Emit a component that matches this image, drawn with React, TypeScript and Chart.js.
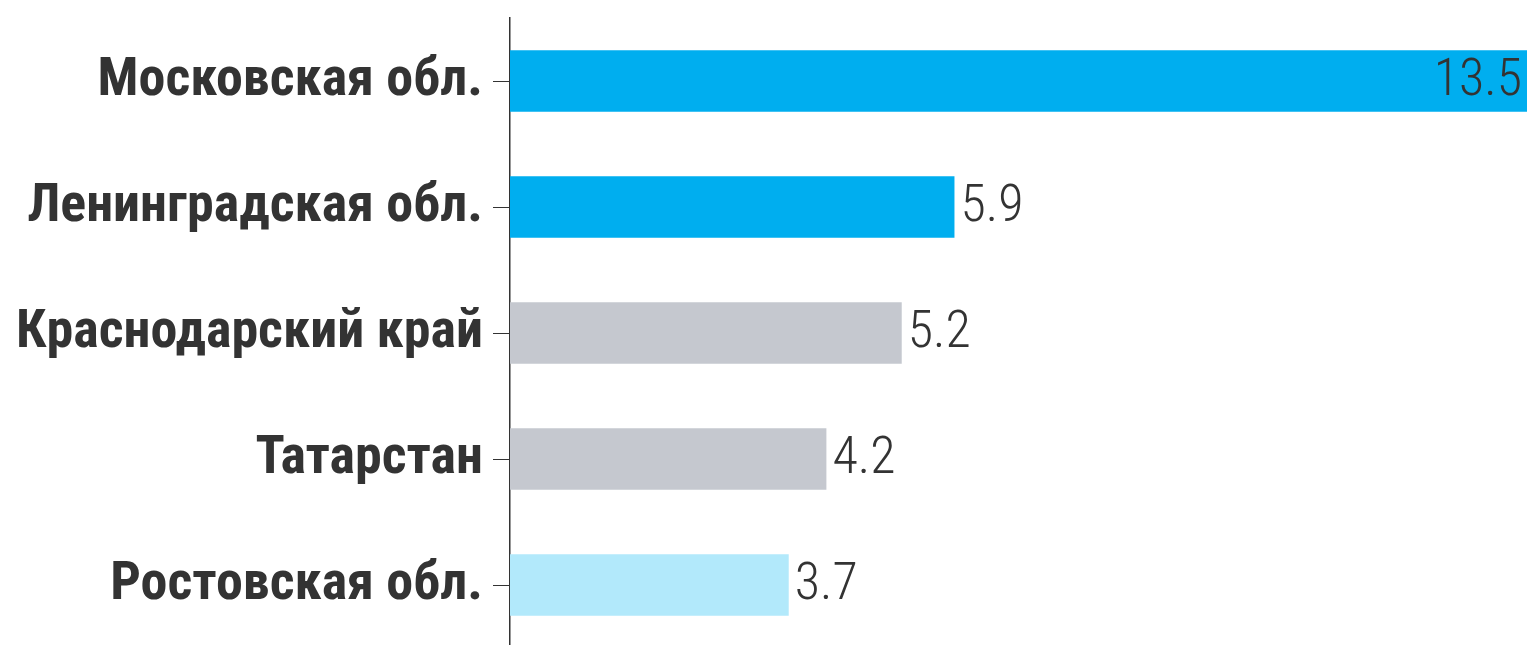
import React, { useEffect, useRef } from "react";
import { Chart, registerables } from "chart.js";

Chart.register(...registerables);

const categories = ["Московская обл.", "Ленинградская обл.", "Краснодарский край", "Татарстан", "Ростовская обл."];
const values = [13.5, 5.9, 5.2, 4.2, 3.7];
const barColors = ["#00AEEF", "#00AEEF", "#C5C8CF", "#C5C8CF", "#B2E9FB"];

const FONT = "'Roboto Condensed', 'Roboto', sans-serif";

const valueLabels = {
  id: "valueLabels",
  afterDatasetsDraw(chart: any) {
    const ctx = chart.ctx;
    const meta = chart.getDatasetMeta(0);
    const area = chart.chartArea;
    ctx.save();
    ctx.font = `300 52px ${FONT}`;
    ctx.fillStyle = "#333333";
    ctx.textBaseline = "middle";
    meta.data.forEach((bar: any, i: number) => {
      const txt = values[i].toFixed(1);
      const w = ctx.measureText(txt).width;
      const x = bar.x;
      const y = bar.y + 1;
      if (x + 8 + w > area.right) {
        ctx.textAlign = "right";
        ctx.fillText(txt, x - 5, y);
      } else {
        ctx.textAlign = "left";
        ctx.fillText(txt, x + 6, y);
      }
    });
    ctx.restore();
  },
};

export default function App() {
  const ref = useRef<HTMLCanvasElement>(null);
  useEffect(() => {
    let chart: Chart | null = null;
    let cancelled = false;
    const make = () => {
      if (cancelled || !ref.current) return;
      chart = new Chart(ref.current, {
        type: "bar",
        data: {
          labels: categories,
          datasets: [
            {
              data: values,
              backgroundColor: barColors,
              borderWidth: 0,
              barPercentage: 0.49,
              categoryPercentage: 1,
            },
          ],
        },
        options: {
          indexAxis: "y",
          animation: false,
          responsive: false,
          maintainAspectRatio: false,
          layout: { padding: { top: 18, bottom: 3, left: 0, right: 0 } },
          plugins: {
            legend: { display: false },
            tooltip: { enabled: false },
            title: { display: false },
          },
          scales: {
            x: {
              display: false,
              min: 0,
              max: 13.5,
            },
            y: {
              afterFit: (scale: any) => {
                scale.width = 510;
                scale.paddingTop = 0;
                scale.paddingBottom = 0;
              },
              border: { display: true, color: "#333333", width: 1.5 },
              grid: {
                display: true,
                offset: false,
                drawOnChartArea: false,
                drawTicks: true,
                tickLength: 17,
                color: "#333333",
                lineWidth: 1,
              },
              ticks: {
                padding: 10,
                color: "#333333",
                font: { family: FONT, size: 54, weight: "bold" },
              },
            },
          },
        },
        plugins: [valueLabels],
      });
    };
    Promise.all([
      document.fonts.load(`bold 54px 'Roboto Condensed'`),
      document.fonts.load(`300 52px 'Roboto Condensed'`),
    ]).then(make, make);
    return () => {
      cancelled = true;
      if (chart) chart.destroy();
    };
  }, []);
  return (
    <div style={{ position: "fixed", left: 0, top: 0, width: 1527, height: 651, background: "#fff" }}>
      <canvas ref={ref} width={1527} height={651} style={{ width: 1527, height: 651, display: "block" }} />
    </div>
  );
}
